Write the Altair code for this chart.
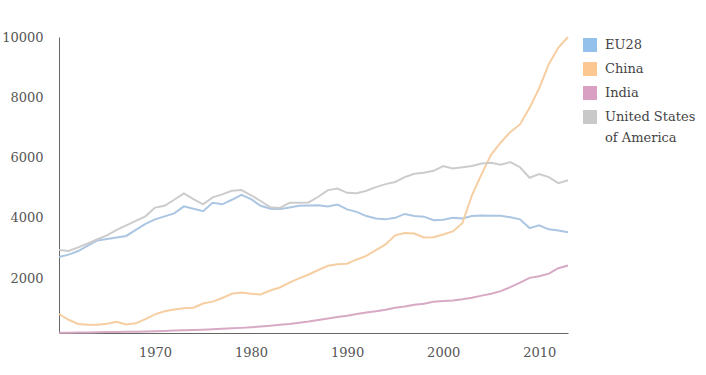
import altair as alt
import pandas as pd

years = list(range(1960, 2014))
eu28 = [2700, 2780, 2900, 3080, 3250, 3300, 3350, 3400, 3600, 3800,
        3950, 4050, 4150, 4380, 4300, 4220, 4500, 4450, 4600, 4760,
        4620, 4400, 4300, 4290, 4340, 4400, 4410, 4420, 4380, 4440,
        4280, 4200, 4060, 3980, 3950, 4000, 4130, 4060, 4040, 3920,
        3940, 4000, 3980, 4060, 4080, 4070, 4070, 4020, 3950, 3660,
        3750, 3620, 3580, 3520]
china = [810, 620, 480, 450, 450, 490, 550, 460, 500, 640,
         800, 900, 960, 1000, 1020, 1160, 1220, 1340, 1480, 1520,
         1480, 1460, 1590, 1690, 1850, 1990, 2120, 2270, 2410, 2460,
         2480, 2620, 2740, 2930, 3120, 3420, 3500, 3480, 3350, 3360,
         3450, 3550, 3820, 4750, 5450, 6100, 6500, 6850, 7100, 7650,
         8300, 9100, 9650, 10000]
india = [185, 190, 195, 200, 205, 210, 215, 220, 225, 230,
         240, 250, 260, 270, 280, 290, 305, 320, 335, 350,
         370, 395, 420, 450, 480, 520, 560, 610, 660, 710,
         750, 810, 860, 900, 950, 1020, 1060, 1120, 1150, 1220,
         1240, 1260, 1300, 1350, 1420, 1480, 1570, 1700, 1850, 2010,
         2060, 2150, 2330, 2420]
usa = [2930, 2900, 3020, 3150, 3290, 3420, 3600, 3750, 3900, 4050,
       4340, 4400, 4600, 4810, 4620, 4450, 4680, 4780, 4900, 4920,
       4750, 4560, 4350, 4330, 4500, 4500, 4510, 4700, 4920, 4970,
       4830, 4820, 4900, 5020, 5120, 5190, 5350, 5460, 5500, 5560,
       5720, 5640, 5680, 5720, 5800, 5830, 5760, 5850, 5680, 5330,
       5450, 5350, 5150, 5250]

series_names = ["EU28", "China", "India", "United States of America"]
line_colors = ["#a6c3e0", "#f6cb9c", "#d6a4c1", "#c9c9c9"]
swatch_colors = ["#93c1eb", "#fcc790", "#d9a0c3", "#c9c9c9"]
x_ticks = [1970, 1980, 1990, 2000, 2010]
y_ticks = [2000, 4000, 6000, 8000, 10000]

rows = []
for name, vals in zip(series_names, [eu28, china, india, usa]):
    for y, v in zip(years, vals):
        rows.append({"year": y, "value": v, "region": name})
df = pd.DataFrame(rows)

font = "DejaVu Serif"

x_enc = alt.X("year:Q", scale=alt.Scale(domain=[1960, 2013], nice=False, zero=False),
              axis=alt.Axis(values=x_ticks, format="d", title=None, grid=False, ticks=False,
                            domainColor="#666", labelPadding=13, labelFontSize=13,
                            labelColor="#555", labelFont=font))
y_enc = alt.Y("value:Q", scale=alt.Scale(domain=[180, 10000], nice=False, zero=False),
              axis=alt.Axis(values=y_ticks, format="d", title=None, grid=False, ticks=False,
                            domainColor="#666", labelPadding=16, labelFontSize=13,
                            labelColor="#555", labelFont=font))

base = alt.Chart(df)

lines = base.mark_line(strokeWidth=2, opacity=0.95).encode(
    x=x_enc, y=y_enc,
    color=alt.Color("region:N", scale=alt.Scale(domain=series_names, range=line_colors),
                    legend=None),
)

legend_layer = base.mark_square(size=0, opacity=0).encode(
    x=x_enc, y=y_enc,
    color=alt.Color("region:N",
                    scale=alt.Scale(domain=series_names, range=swatch_colors),
                    legend=alt.Legend(title=None, orient="none", legendX=524, legendY=1,
                                      symbolType="square", symbolSize=196,
                                      symbolStrokeWidth=0, symbolOpacity=1,
                                      labelFont=font, labelFontSize=13, labelColor="#444",
                                      rowPadding=10, labelOffset=8,
                                      labelExpr="datum.label == 'United States of America' ? ['United States', 'of America'] : datum.label")),
)

chart = alt.layer(lines, legend_layer).resolve_scale(color="independent").properties(
    width=509, height=296,
    padding={"left": 59, "top": 37, "right": 138, "bottom": 42},
    autosize=alt.AutoSizeParams(type="none"),
).configure(
    background="white",
    view=alt.ViewConfig(stroke=None),
    style={"guide-label": {"lineHeight": 21}},
)

chart.save("out.html", embed_options={"renderer": "svg", "actions": False})
